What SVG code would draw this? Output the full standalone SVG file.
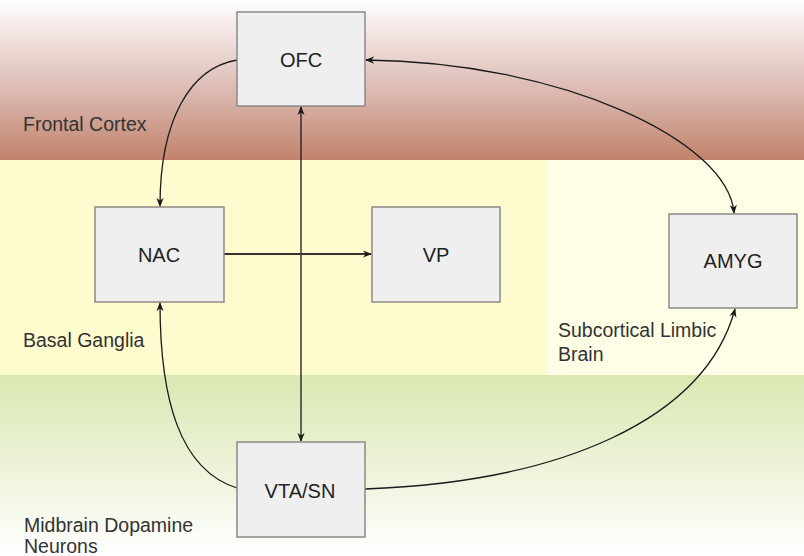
<svg xmlns="http://www.w3.org/2000/svg" width="804" height="556" viewBox="0 0 804 556">
<style>
.box{fill:#efefef;stroke:#8c8888;stroke-width:1.5}
.lbl{font-family:"Liberation Sans",Arial,sans-serif;font-size:20px;fill:#222;text-anchor:middle}
.reg{font-family:"Liberation Sans",Arial,sans-serif;font-size:19.5px;fill:#333}
.con{fill:none;stroke:#1a1a1a;stroke-width:1.3}
</style>
<defs>
<linearGradient id="gFront" x1="0" y1="0" x2="0" y2="1">
<stop offset="0" stop-color="#ffffff"/>
<stop offset="0.12" stop-color="#f8efee"/>
<stop offset="0.5" stop-color="#e0c2bc"/>
<stop offset="0.8" stop-color="#cd9c8c"/>
<stop offset="1" stop-color="#c2826c"/>
</linearGradient>
<linearGradient id="gMid" x1="0" y1="0" x2="0" y2="1">
<stop offset="0" stop-color="#d9e8b2"/>
<stop offset="0.5" stop-color="#ecf3d8"/>
<stop offset="1" stop-color="#ffffff"/>
</linearGradient>
<marker id="ah" viewBox="0 0 10 10" refX="9" refY="5" markerWidth="9" markerHeight="9" markerUnits="userSpaceOnUse" orient="auto-start-reverse">
<path d="M0,1 L10,5 L0,9 L3,5 Z" fill="#1a1a1a"/>
</marker>
</defs>
<g id="regions">
<rect x="0" y="0" width="804" height="160" fill="url(#gFront)"/>
<rect x="0" y="160" width="548" height="215" fill="#fefccf"/>
<rect x="548" y="160" width="256" height="215" fill="#fefee6"/>
<rect x="0" y="375" width="804" height="181" fill="url(#gMid)"/>
<text class="reg" x="23" y="131">Frontal Cortex</text>
<text class="reg" x="23" y="347">Basal Ganglia</text>
<text class="reg" x="558" y="337">Subcortical Limbic</text>
<text class="reg" x="558" y="361">Brain</text>
<text class="reg" x="24" y="532">Midbrain Dopamine</text>
<text class="reg" x="24" y="553">Neurons</text>
</g>
<g id="connectors">
<path class="con" d="M237,60 C190,68 160,120 160,206" marker-end="url(#ah)"/>
<path class="con" d="M301,107 L301,441" marker-start="url(#ah)" marker-end="url(#ah)"/>
<path d="M224,254 L371,254" fill="none" stroke="#3a3030" stroke-width="2.2" marker-end="url(#ah)"/>
<path class="con" d="M366,60 C560,62 728,140 734,213" marker-start="url(#ah)" marker-end="url(#ah)"/>
<path class="con" d="M237,488 C180,470 160,400 160,303" marker-end="url(#ah)"/>
<path class="con" d="M365,489 C560,482 705,420 735,309" marker-end="url(#ah)"/>
</g>
<g id="OFC"><rect class="box" x="237" y="12" width="128" height="94"/><text class="lbl" x="301" y="67">OFC</text></g>
<g id="NAC"><rect class="box" x="95" y="207" width="129" height="95"/><text class="lbl" x="159" y="262">NAC</text></g>
<g id="VP"><rect class="box" x="372" y="207" width="128" height="95"/><text class="lbl" x="436" y="262">VP</text></g>
<g id="AMYG"><rect class="box" x="669" y="214" width="128" height="94"/><text class="lbl" x="733" y="268">AMYG</text></g>
<g id="VTA_SN"><rect class="box" x="237" y="442" width="128" height="95"/><text class="lbl" x="300" y="498">VTA/SN</text></g>
</svg>
